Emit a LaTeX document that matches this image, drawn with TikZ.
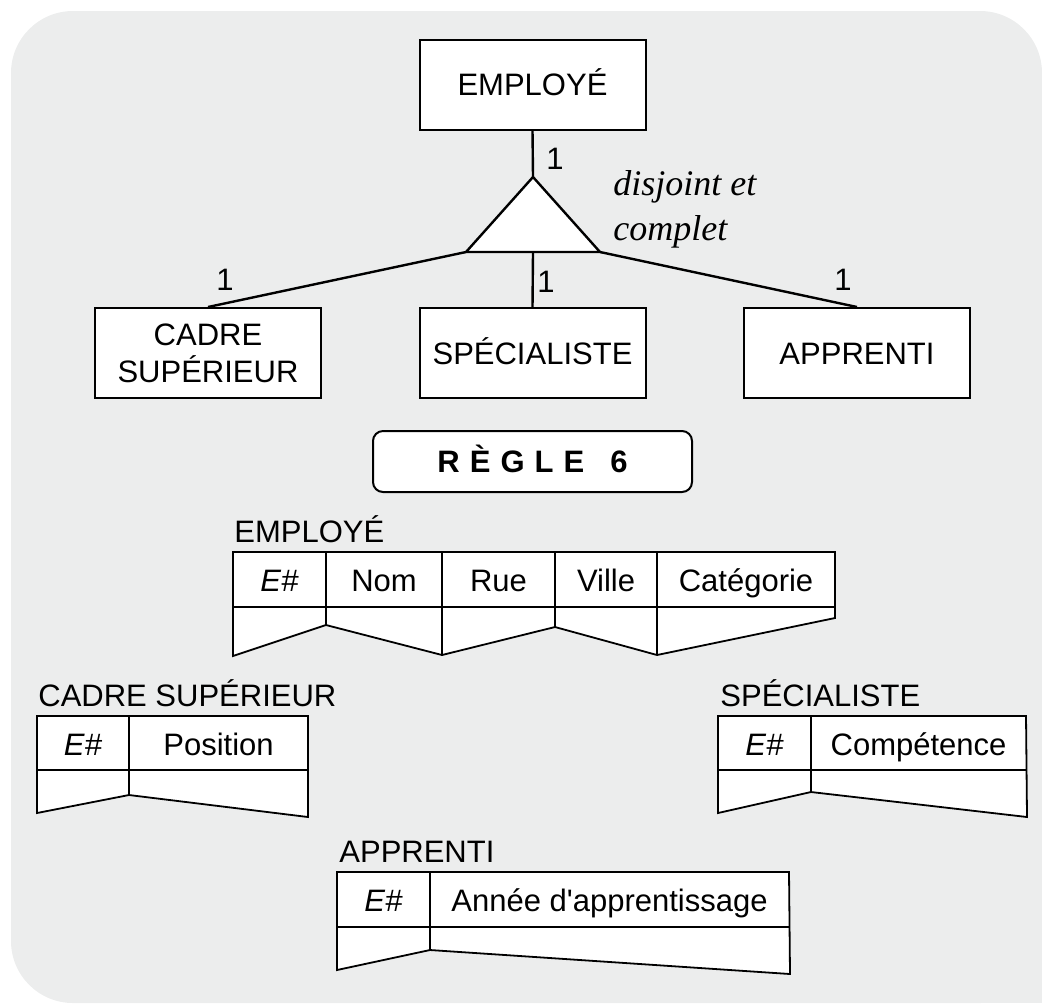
\documentclass[tikz,border=0pt]{standalone}
\usepackage{fontspec}
\setmainfont{Liberation Sans}
\newfontfamily\contraintefont{Liberation Serif}
\definecolor{fondgris}{HTML}{ECEDED}
\usetikzlibrary{positioning}

\begin{document}
\begin{tikzpicture}[
    x=0.5pt, y=-0.5pt,
    every node/.style={font=\fontsize{15.5}{18.5}\selectfont},
    entite/.style={
        rectangle,
        draw,
        fill=white,
        line width=1pt,
        minimum width=113pt,
        minimum height=45pt,
        align=center
    },
    unique/.style={text height=11.1pt, text depth=0pt},
    regle/.style={
        rectangle,
        rounded corners=5pt,
        draw,
        fill=white,
        line width=1pt,
        minimum width=159.5pt,
        minimum height=30.5pt,
        text height=11.1pt,
        text depth=0pt,
        font=\fontsize{15.5}{18.5}\selectfont\bfseries
    },
    lien/.style={line width=1.2pt},
    table/.style={draw, fill=white, line width=0.9pt},
    trait/.style={line width=0.9pt},
    card/.style={inner sep=0pt},
    titre/.style={anchor=base west, inner sep=0pt},
    cellule/.style={anchor=base, inner sep=0pt}
]

% fond
\useasboundingbox (0,0) rectangle (1042,1003);
\fill[fondgris, rounded corners=31pt] (11,11) rectangle (1042,1003);
\fill[fondgris] (970,930) rectangle (1042,1003);

% entites
\node[entite, unique] (emp) at (532.5,84.5) {EMPLOYÉ};
\node[entite] (cadre) at (208,353) {CADRE\\SUPÉRIEUR};
\node[entite, unique] (spec) at (532.5,353) {SPÉCIALISTE};
\node[entite, unique] (appr) at (857,353) {APPRENTI};

% triangle de specialisation
\coordinate (sommet) at (533,177);
\coordinate (basg) at (466,252);
\coordinate (basd) at (600,252);
\coordinate (basm) at (533,252);
\draw[lien, fill=white] (sommet) -- (basg) -- (basd) -- cycle;

% liens
\draw[lien] (emp.south) -- (sommet);
\draw[lien] (basg) -- (cadre.north);
\draw[lien] (basm) -- (spec.north);
\draw[lien] (basd) -- (appr.north);

% cardinalites
\node[card] (c1) at (555,159) {1};
\node[card] (c2) at (225,280) {1};
\node[card] (c3) at (546,282) {1};
\node[card] (c4) at (843,280) {1};

\node[anchor=north west, inner sep=0pt, align=left,
      font=\fontsize{18}{22.5}\selectfont\contraintefont\itshape]
      (contr) at (613,170) {disjoint et\\complet};

% regle
\node[regle] (r6) at (532.5,461.5)
    {R\hspace{5pt}È\hspace{5pt}G\hspace{5pt}L\hspace{5pt}E\hspace{13pt}6};

% table EMPLOYE
\node[titre] (tEmp) at (234,542) {EMPLOYÉ};
\draw[table] (233,552) -- (835,552) -- (835,618) -- (657,655) -- (555,627)
    -- (442,655) -- (326,625) -- (233,656) -- cycle;
\draw[trait] (233,607) -- (835,607);
\foreach \x/\yb in {326/625, 442/655, 555/627, 657/655}
    \draw[trait] (\x,552) -- (\x,\yb);
\node[cellule] (empE) at (279.5,591) {\textit{E\#}};
\node[cellule] (empNom) at (384,591) {Nom};
\node[cellule] (empRue) at (498.5,591) {Rue};
\node[cellule] (empVille) at (606,591) {Ville};
\node[cellule] (empCat) at (746,591) {Catégorie};

% table CADRE SUPERIEUR
\node[titre] (tCadre) at (38,706) {CADRE SUPÉRIEUR};
\draw[table] (37,716) -- (308,716) -- (308,817) -- (129,795) -- (37,813) -- cycle;
\draw[trait] (37,770) -- (308,770);
\draw[trait] (129,716) -- (129,795);
\node[cellule] (cadE) at (83,755) {\textit{E\#}};
\node[cellule] (cadPos) at (218.5,755) {Position};

% table SPECIALISTE
\node[titre] (tSpec) at (720,706) {SPÉCIALISTE};
\draw[table] (718,716) -- (1026,716) -- (1027,817) -- (811,792) -- (718,813) -- cycle;
\draw[trait] (718,770) -- (1026,770);
\draw[trait] (811,716) -- (811,792);
\node[cellule] (specE) at (764.5,755) {\textit{E\#}};
\node[cellule] (specComp) at (918.5,755) {Compétence};

% table APPRENTI
\node[titre] (tAppr) at (339,862) {APPRENTI};
\draw[table] (337,872) -- (789,872) -- (790,974) -- (430,950) -- (337,970) -- cycle;
\draw[trait] (337,927) -- (789,927);
\draw[trait] (430,872) -- (430,950);
\node[cellule] (apprE) at (383.5,911) {\textit{E\#}};
\node[cellule] (apprAnnee) at (609.5,911) {Année d\textquotesingle apprentissage};

\end{tikzpicture}
\end{document}
